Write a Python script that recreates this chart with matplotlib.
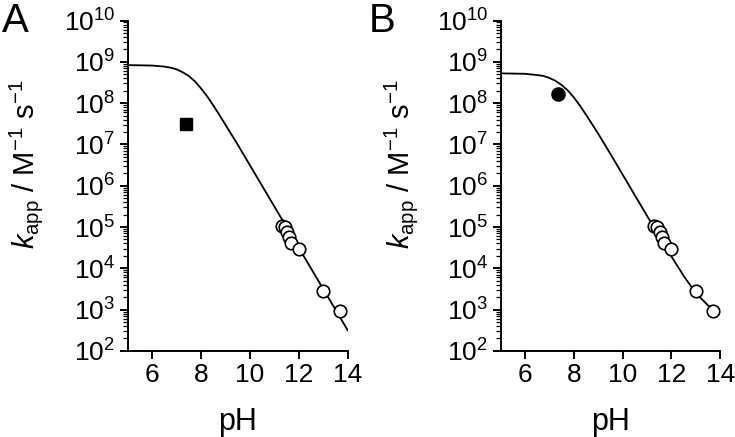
import numpy as np
import matplotlib
matplotlib.use("Agg")
import matplotlib.pyplot as plt
from matplotlib.ticker import LogLocator, LogFormatterMathtext, NullFormatter

plt.rcParams['font.family'] = ['Liberation Sans', 'DejaVu Sans']
plt.rcParams['mathtext.fontset'] = 'custom'
plt.rcParams['mathtext.rm'] = 'Liberation Sans'
plt.rcParams['mathtext.it'] = 'Liberation Sans:italic'
plt.rcParams['mathtext.bf'] = 'Liberation Sans:bold'

# measured rate constants (open circles, same in both panels)
ph_data = [11.30, 11.42, 11.52, 11.60, 11.70, 12.00, 13.00, 13.70]
k_data = [1.05e5, 1.0e5, 7.5e4, 5.6e4, 4.1e4, 2.9e4, 2.8e3, 9.5e2]

# single filled points at pH 7.4
ph_a_point = [7.4]
k_a_point = [3.2e7]
ph_b_point = [7.37]
k_b_point = [1.7e8]

# fitted curves, log10(k)
ph_curve = [5.0, 5.5, 6.0, 6.5, 6.75, 7.0, 7.25, 7.5, 7.75, 8.0, 8.25, 8.5,
            8.75, 9.0, 9.5, 10.0, 10.5, 11.0, 11.5, 12.0, 12.5, 13.0, 13.5, 14.0]
logk_curve_a = [8.92, 8.916, 8.91, 8.885, 8.86, 8.82, 8.75, 8.66, 8.53, 8.36, 8.17, 7.95,
                7.72, 7.48, 7.00, 6.50, 6.00, 5.50, 5.00, 4.50, 4.00, 3.50, 3.00, 2.50]
logk_curve_b = [8.72, 8.716, 8.71, 8.68, 8.66, 8.61, 8.54, 8.44, 8.31, 8.14, 7.94, 7.72,
                7.49, 7.26, 6.77, 6.27, 5.77, 5.27, 4.775, 4.285, 3.816, 3.40, 3.10, 2.93]

fig = plt.figure(figsize=(7.35, 4.37), dpi=100)
ax_a = fig.add_axes([0.1735, 0.197, 0.2995, 0.756])
ax_b = fig.add_axes([0.681, 0.197, 0.299, 0.756])


def style_axis(ax, label_x):
    ax.set_yscale('log')
    ax.set_xlim(5, 14)
    ax.set_ylim(1e2, 1e10)
    ax.set_xticks([6, 8, 10, 12, 14])
    ax.yaxis.set_major_locator(LogLocator(base=10, numticks=20))
    ax.yaxis.set_major_formatter(LogFormatterMathtext())
    ax.yaxis.set_minor_locator(LogLocator(base=10, subs=np.arange(2, 10), numticks=20))
    ax.yaxis.set_minor_formatter(NullFormatter())
    for s in ['top', 'right']:
        ax.spines[s].set_visible(False)
    for s in ['left', 'bottom']:
        ax.spines[s].set_linewidth(1.4)
    ax.tick_params(axis='both', which='major', direction='out', length=6, width=1.4,
                   labelsize=19, pad=3)
    ax.tick_params(axis='y', which='minor', direction='out', length=3.5, width=0.9)
    ax.set_xlabel('pH', fontsize=22, labelpad=14)
    ax.set_ylabel(r'$\mathit{k}_{\mathrm{app}}$ / M$^{\mathrm{-1}}$ s$^{\mathrm{-1}}$', fontsize=21)
    ax.yaxis.set_label_coords(label_x, 0.566)


for ax, lx in ((ax_a, -0.375), (ax_b, -0.367)):
    style_axis(ax, lx)
    ax.plot(ph_data, k_data, 'o', mfc='white', mec='black', mew=1.2, ms=9,
            linestyle='none', zorder=3)

ax_a.plot(ph_curve, 10 ** np.array(logk_curve_a), color='black', lw=1.3, zorder=2)
ax_b.plot(ph_curve, 10 ** np.array(logk_curve_b), color='black', lw=1.3, zorder=2)

ax_a.plot(ph_a_point, k_a_point, 's', color='black', ms=8, zorder=3)
ax_b.plot(ph_b_point, k_b_point, 'o', color='black', ms=9.5, zorder=3)

fig.text(0.003, 0.995, 'A', fontsize=29, va='top', ha='left')
fig.text(0.502, 0.995, 'B', fontsize=29, va='top', ha='left')

fig.savefig('out.png', dpi=100)
